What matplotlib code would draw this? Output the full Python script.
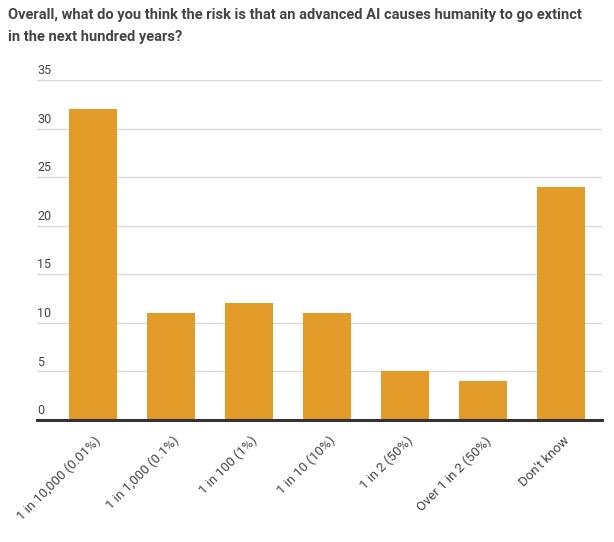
import matplotlib
matplotlib.use("Agg")
import matplotlib.pyplot as plt
import matplotlib.transforms as mtransforms

categories = [
    "1 in 10,000 (0.01%)",
    "1 in 1,000 (0.1%)",
    "1 in 100 (1%)",
    "1 in 10 (10%)",
    "1 in 2 (50%)",
    "Over 1 in 2 (50%)",
    "Don't know",
]
counts = [32, 11, 12, 11, 5, 4, 24]
y_ticks = [0, 5, 10, 15, 20, 25, 30, 35]

title = ("Overall, what do you think the risk is that an advanced AI causes humanity to go extinct\n"
         "in the next hundred years?")

plt.rcParams["font.family"] = ["Roboto", "DejaVu Sans"]

fig = plt.figure(figsize=(6.14, 5.42), dpi=100)
ax = fig.add_axes([37 / 614, 1 - 420 / 542, (602 - 37) / 614, 340 / 542])

x = list(range(len(categories)))
ax.bar(x, counts, width=0.615, color="#E29B28", zorder=2)

ax.set_xlim(-0.72, 6.52)
ax.set_ylim(0, 35)

# Axis formatting.
for s in ["top", "right", "left"]:
    ax.spines[s].set_visible(False)
ax.spines["bottom"].set_color("#333333")
ax.spines["bottom"].set_linewidth(2.2)
ax.spines["bottom"].set_zorder(3)
ax.set_yticks(y_ticks)
ax.yaxis.grid(True, color="#D9D9D9", linewidth=1)
ax.set_axisbelow(True)
ax.tick_params(left=False, bottom=False, labelleft=False)

# y labels sit above their gridline, left aligned
trans = mtransforms.blended_transform_factory(ax.transAxes, ax.transData)
for v in y_ticks:
    ax.text(0.0, v + 0.3, str(v), transform=trans, ha="left", va="bottom",
            fontsize=9, color="#444444")

ax.set_xticks(x)
ax.set_xticklabels(categories, rotation=45, ha="right", va="center",
                   rotation_mode="anchor", fontsize=9.5, color="#444444")
for lbl in ax.get_xticklabels():
    lbl.set_transform(lbl.get_transform() + mtransforms.ScaledTranslation(6 / 100, -9 / 100, fig.dpi_scale_trans))

fig.text(8 / 614, 1 - 8 / 542, title, ha="left", va="top", fontsize=10.5,
         fontweight="bold", color="#444444", linespacing=1.75)

fig.savefig("out.png", dpi=100)
